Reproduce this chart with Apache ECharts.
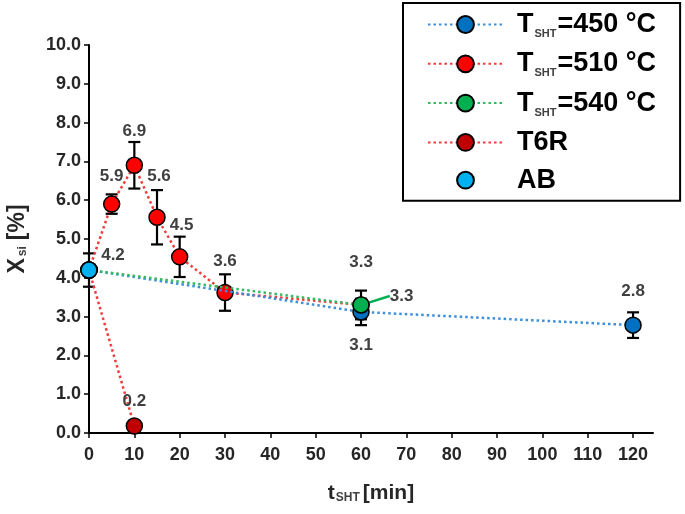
<!DOCTYPE html>
<html><head><meta charset="utf-8">
<script src="https://cdn.jsdelivr.net/npm/echarts@6/dist/echarts.min.js"></script>
<style>html,body{margin:0;padding:0;background:#fff}#c{width:685px;height:514px}</style>
</head><body><div id="c"></div>
<script>
// ---- data ----
const xTicks = [0, 10, 20, 30, 40, 50, 60, 70, 80, 90, 100, 110, 120];
const yTicks = [0, 1, 2, 3, 4, 5, 6, 7, 8, 9, 10];

const x450 = [0, 60, 120];
const y450 = [4.2, 3.12, 2.78];
const e450 = [0, 0.34, 0.33];

const x510 = [0, 5, 10, 15, 20, 30, 60];
const y510 = [4.2, 5.9, 6.9, 5.56, 4.54, 3.62, 3.3];
const e510 = [0, 0.25, 0.6, 0.7, 0.52, 0.47, 0];

const x540 = [0, 60];
const y540 = [4.2, 3.3];
const e540 = [0, 0.37];

const xT6R = [0, 10];
const yT6R = [4.2, 0.18];

const xAB = [0];
const yAB = [4.2];
const eAB = [0.43];

const names = ['450', '510', '540', 'T6R', 'AB'];

// ---- label placement (style, not data) ----
const lab450 = [null, [0, 33], [0, -34]];
const lab510 = [null, [0, -28], [0, -34], [2, -41], [2, -32], [0, -31], [0, -43]];
const lab540 = [null, [38, -7]];
const labT6R = [null, [0, -25]];
const labAB = [[24, -15]];

const FONT = '"Liberation Sans", Arial, sans-serif';

function pts(xs, ys, labs) {
  return xs.map((x, i) => {
    const item = { value: [x, ys[i]] };
    if (labs && labs[i]) {
      item.label = { show: true, position: 'inside', offset: labs[i] };
    } else {
      item.label = { show: false };
    }
    return item;
  });
}
function errs(xs, ys, es) {
  const out = [];
  xs.forEach((x, i) => { if (es[i] > 0) out.push([x, ys[i], es[i]]); });
  return out;
}

const labelStyle = {
  color: '#404040', fontFamily: FONT, fontWeight: 'bold', fontSize: 17,
  formatter: p => p.value[1].toFixed(1)
};

function lineSeries(name, data, lineColor, fill, z) {
  return {
    name: name, type: 'line', data: data, z: z,
    showAllSymbol: true, symbol: 'circle', symbolSize: 16,
    lineStyle: { color: lineColor, width: 2.5, type: [2.5, 3] },
    itemStyle: { color: fill, borderColor: '#000', borderWidth: 1.5 },
    label: labelStyle,
    emphasis: { disabled: true }
  };
}

const errData = [].concat(errs(x450, y450, e450), errs(x510, y510, e510), errs(x540, y540, e540), errs(xAB, yAB, eAB));

const sub = { fontSize: 12, fontWeight: 'bold', fontFamily: FONT, color: '#404040', verticalAlign: 'bottom', lineHeight: 18, padding: [0, 3, 0, 1] };

const legendText = {
  '450': '{a|T}{b|SHT}{a|=450 °C}',
  '510': '{a|T}{b|SHT}{a|=510 °C}',
  '540': '{a|T}{b|SHT}{a|=540 °C}',
  'T6R': '{a|T6R}',
  'AB': '{a|AB}'
};

const green540 = lineSeries('540', pts(x540, y540, lab540), '#35B863', '#00B050', 5);
green540.data[1].label = { show: true, position: 'right', distance: 0 };
green540.data[1].labelLine = { show: true, lineStyle: { color: '#00B050', width: 2.5 } };
green540.labelLayout = function (p) {
  return p.dataIndex === 1 ? { dx: 20, dy: -9 } : {};
};

const option = {
  animation: false,
  backgroundColor: '#fff',
  grid: { left: 89, right: 32, top: 45, bottom: 81, outerBoundsMode: 'none', containLabel: false },
  xAxis: {
    type: 'value', min: 0, max: 124.4, interval: 10,
    axisLine: { lineStyle: { color: '#000', width: 2 } },
    axisTick: { show: true, length: 5, lineStyle: { color: '#000', width: 1.5 }, customValues: xTicks },
    axisLabel: { customValues: xTicks, margin: 13, color: '#262626', fontFamily: FONT, fontWeight: 'bold', fontSize: 18 },
    splitLine: { show: false },
    name: '{a|t}{b|SHT}{a|[min]}', nameLocation: 'middle', nameGap: 50,
    nameTextStyle: { rich: { a: { fontSize: 21, fontWeight: 'bold', fontFamily: FONT, color: '#262626' }, b: sub } }
  },
  yAxis: {
    type: 'value', min: 0, max: 10, interval: 1,
    axisLine: { show: true, lineStyle: { color: '#000', width: 2 } },
    axisTick: { show: true, length: 5, lineStyle: { color: '#000', width: 1.5 } },
    axisLabel: { margin: 8, color: '#262626', fontFamily: FONT, fontWeight: 'bold', fontSize: 18,
      formatter: v => yTicks.indexOf(v) >= 0 ? v.toFixed(1) : '' },
    splitLine: { show: false },
    name: '{a|X}{b|si}{a|[%]}', nameLocation: 'middle', nameGap: 60, nameRotate: 90,
    nameTextStyle: { rich: { a: { fontSize: 23, fontWeight: 'bold', fontFamily: FONT, color: '#262626' },
      b: { fontSize: 12, fontWeight: 'bold', fontFamily: FONT, color: '#404040', verticalAlign: 'bottom', lineHeight: 18, padding: [0, 6, 0, 2] } } }
  },
  legend: {
    orient: 'vertical', left: 403, top: 3,
    data: names,
    itemWidth: 75, itemHeight: 21, itemGap: 10.8,
    padding: [8, 24, 7, 24],
    borderColor: '#000', borderWidth: 2,
    backgroundColor: '#fff',
    selectedMode: false,
    formatter: n => legendText[n],
    textStyle: {
      padding: [0, 0, 0, 9],
      rich: {
        a: { fontSize: 27, fontWeight: 'bold', fontFamily: FONT, color: '#000', lineHeight: 30 },
        b: { fontSize: 11, fontWeight: 'bold', fontFamily: FONT, color: '#404040', verticalAlign: 'bottom', lineHeight: 22, padding: [0, 1, 0, 1] }
      }
    }
  },
  series: [
    {
      type: 'custom', z: 1, data: errData, silent: true,
      renderItem: function (params, api) {
        const x = api.value(0), y = api.value(1), e = api.value(2);
        const top = api.coord([x, y + e]);
        const bot = api.coord([x, y - e]);
        const w = 6;
        const st = { stroke: '#000', lineWidth: 2.2 };
        return { type: 'group', children: [
          { type: 'line', shape: { x1: top[0], y1: top[1], x2: bot[0], y2: bot[1] }, style: st },
          { type: 'line', shape: { x1: top[0] - w, y1: top[1], x2: top[0] + w, y2: top[1] }, style: st },
          { type: 'line', shape: { x1: bot[0] - w, y1: bot[1], x2: bot[0] + w, y2: bot[1] }, style: st }
        ] };
      }
    },
    lineSeries('510', pts(x510, y510, lab510), '#F23A3A', '#FF0000', 3),
    lineSeries('T6R', pts(xT6R, yT6R, labT6R), '#F23A3A', '#C00000', 3),
    lineSeries('450', pts(x450, y450, lab450), '#3D8FD9', '#0070C0', 4),
    green540,
    Object.assign(lineSeries('AB', pts(xAB, yAB, labAB), '#00B0F0', '#00B0F0', 6), { lineStyle: { width: 0, opacity: 0 } })
  ]
};

const chart = echarts.init(document.getElementById('c'), null, { renderer: 'canvas' });
chart.setOption(option);
</script>
</body></html>
